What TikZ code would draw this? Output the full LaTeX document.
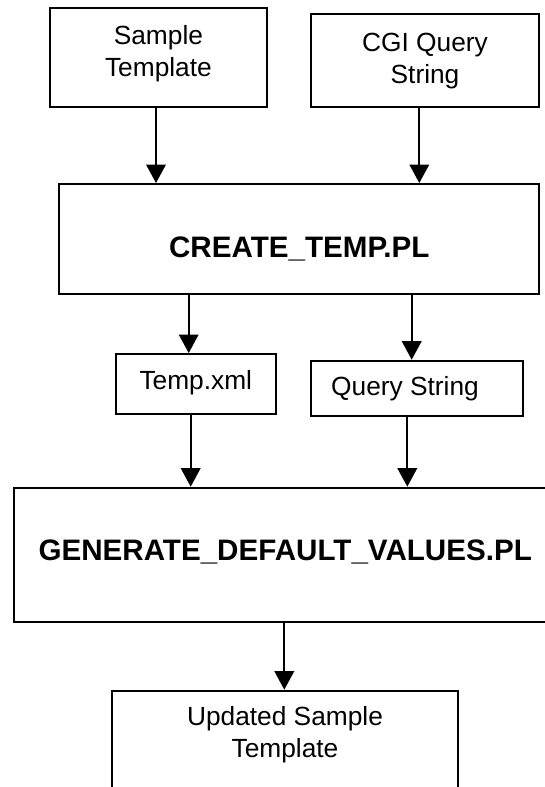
\documentclass[tikz,border=0pt]{standalone}
\usepackage{fontspec}
\setmainfont{Liberation Sans}
\usetikzlibrary{arrows.meta}

\begin{document}
\begin{tikzpicture}[x=1pt,y=-1pt,
  box/.style={draw=black, line width=2pt, rectangle, inner sep=0pt, fill=none},
  plain/.style={font=\fontsize{26.3}{32}\selectfont, align=center, inner sep=0pt},
  heavy/.style={font=\fontsize{29.6}{35}\selectfont\bfseries, align=center, inner sep=0pt},
  arr/.style={line width=1.9pt, -{Triangle[length=18.5pt,width=19.5pt]}}
]
\useasboundingbox[fill=white] (0,0) rectangle (545,787);

% input boxes
\node[box, minimum width=216.2pt, minimum height=98.4pt,
      label={[plain, yshift=4.2pt]center:Sample\\Template}] (sample) at (158.4,57.5) {};
\node[box, minimum width=228pt, minimum height=92.7pt,
      label={[plain, yshift=-0.5pt]center:CGI Query\\String}] (cgi) at (425,60.3) {};

% first script
\node[box, minimum width=480pt, minimum height=110.3pt,
      label={[heavy, yshift=-10pt]center:CREATE\_TEMP.PL}] (create) at (299.3,239.2) {};

% intermediate outputs
\node[box, minimum width=160.2pt, minimum height=60.3pt,
      label={[plain, yshift=2pt]center:Temp.xml}] (temp) at (195.8,384.2) {};
\node[box, minimum width=212.6pt, minimum height=55pt,
      label={[plain, xshift=-12pt]center:Query String}] (query) at (417,388.2) {};

% second script
\node[box, minimum width=546pt, minimum height=134pt,
      label={[heavy, xshift=-1.8pt, yshift=3pt]center:GENERATE\_DEFAULT\_VALUES.PL}] (gen) at (287,554.7) {};

% result
\node[box, minimum width=346.6pt, minimum height=109.3pt,
      label={[plain, yshift=11pt]center:Updated Sample\\Template}] (upd) at (285,745.35) {};

% arrow columns
\coordinate (xa) at (156,0);
\coordinate (xb) at (419.3,0);
\coordinate (xc) at (188.7,0);
\coordinate (xd) at (411.7,0);
\coordinate (xe) at (190.7,0);
\coordinate (xf) at (407.3,0);
\coordinate (xg) at (284.3,0);

\draw[arr] (sample.south -| xa) -- (create.north -| xa);
\draw[arr] (cgi.south -| xb) -- (create.north -| xb);
\draw[arr] (create.south -| xc) -- (temp.north -| xc);
\draw[arr] (create.south -| xd) -- (query.north -| xd);
\draw[arr] (temp.south -| xe) -- (gen.north -| xe);
\draw[arr] (query.south -| xf) -- (gen.north -| xf);
\draw[arr] (gen.south -| xg) -- (upd.north -| xg);
\end{tikzpicture}
\end{document}
